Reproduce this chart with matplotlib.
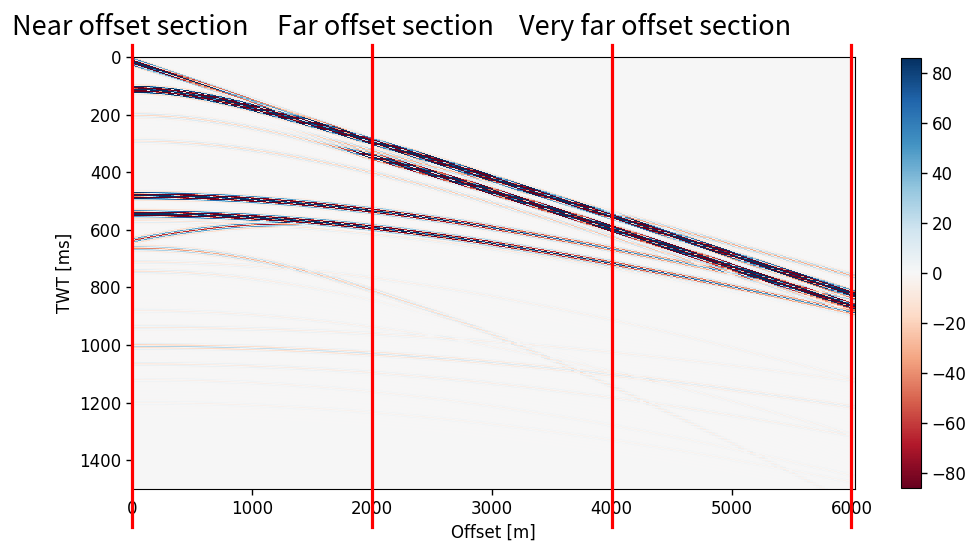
import numpy as np
import matplotlib
matplotlib.use("Agg")
import matplotlib.pyplot as plt

plt.rcParams["font.family"] = ["DejaVu Sans"]
plt.rcParams["font.size"] = 12

# ---- acquisition geometry -------------------------------------------------
offsets = np.arange(0.0, 6030.0, 25.0)      # receiver offsets [m]
twt = np.arange(0.0, 1500.0, 1.0)           # two-way time samples [ms]
wavelet_freq = 90.0                          # carrier frequency [Hz]
wavelet_width = 9.0                          # Gaussian envelope width [ms]

# ---- events in the shot gather ---------------------------------------------
# kind "lin": t = t0 + x / vel        kind "hyp": t = sqrt(t0^2 + ((x - apex)/vel)^2)
ev_kind     = ["lin", "lin", "hyp", "hyp", "hyp", "hyp", "hyp", "hyp", "hyp", "hyp",
               "hyp", "hyp", "hyp", "hyp", "hyp", "hyp", "hyp", "hyp", "hyp"]
ev_t0       = [17, 109, 112, 202, 202, 291, 481, 544, 568, 580,
               663, 711, 743, 880, 938, 1004, 1065, 1120, 1200]        # ms
ev_vel      = [7.4, 9.26, 7.4, 7.15, 7.15, 7.24, 8.7, 8.6, 8.7, 5.0,
               4.3, 7.0, 5.0, 6.2, 9.7, 8.8, 7.8, 6.5, 7.0]             # m/ms
ev_apex     = [0, 0, 0, 0, 0, 0, 0, 0, 0, 1300,
               0, 0, 0, 0, 0, 0, 0, 0, 0]                               # m
ev_amp_near = [420, -30, 420, -18, -360, -12, 380, 360, -14, -70,
               -45, -9, -14, -6, -10, 30, -9, -5, -4]
ev_amp_far  = [50, -34, 330, -18, -360, -30, 15, 35, -8, -70,
               0, -4, 0, -4, -4, 6, -5, -3, -3]
ev_decay    = [300, 1000, 3000, 1000, 1000, 3000, 2000, 2200, 1500, 1000,
               2500, 2000, 1500, 2000, 2000, 2500, 2000, 2000, 2000]    # m
ev_x_from   = [-1e6, 1500, -1e6, -1e6, 2000, -1e6, -1e6, -1e6, -1e6, -1e6,
               -1e6, -1e6, -1e6, -1e6, -1e6, -1e6, -1e6, -1e6, -1e6]    # m
ev_x_to     = [1e6, 1e6, 1e6, 1e6, 1e6, 1e6, 1e6, 1e6, 1e6, 1350,
               1e6, 1e6, 1e6, 1e6, 1e6, 1e6, 1e6, 1e6, 1e6]             # m

# colour scale and section boundaries
clip = 86
cbar_ticks = [-80, -60, -40, -20, 0, 20, 40, 60, 80]
section_edges = [0, 2000, 4000, 6000]
section_names = ["Near offset section", "Far offset section", "Very far offset section"]
section_label_x = [12, 277, 519]            # pixel positions of the headers


def wavelet(t_ms):
    return np.cos(2 * np.pi * wavelet_freq * t_ms / 1000.0) * np.exp(-(t_ms / wavelet_width) ** 2)


gather = np.zeros((twt.size, offsets.size))
for k in range(len(ev_t0)):
    x = offsets
    if ev_kind[k] == "lin":
        t_arr = ev_t0[k] + x / ev_vel[k]
    else:
        t_arr = np.sqrt(ev_t0[k] ** 2 + ((x - ev_apex[k]) / ev_vel[k]) ** 2)
    amp = ev_amp_far[k] + (ev_amp_near[k] - ev_amp_far[k]) * np.exp(-x / ev_decay[k])
    taper = (0.5 * (1 + np.tanh((x - ev_x_from[k]) / 250.0))
             * 0.5 * (1 + np.tanh((ev_x_to[k] - x) / 150.0)))
    gather += amp * taper * wavelet(twt[:, None] - t_arr[None, :])

# ---- figure -----------------------------------------------------------------
W, H = 974, 542
fig = plt.figure(figsize=(W / 100, H / 100), dpi=100)

ax = fig.add_axes([132 / W, 1 - 489 / H, (855 - 132) / W, (489 - 57) / H])
im = ax.imshow(gather, cmap="RdBu", vmin=-clip, vmax=clip, aspect="auto",
               extent=(0, 6030, 1500, 0), interpolation="nearest")
ax.set_xlim(0, 6030)
ax.set_ylim(1500, 0)
ax.set_xticks(np.arange(0, 6001, 1000))
ax.set_yticks(np.arange(0, 1401, 200))
ax.set_xlabel("Offset [m]", fontsize=12)
ax.set_ylabel("TWT [ms]", fontsize=12)
ax.tick_params(labelsize=12, length=4.2, width=1.0)

cax = fig.add_axes([901 / W, 1 - 488 / H, 20 / W, (488 - 58) / H])
cb = fig.colorbar(im, cax=cax, ticks=cbar_ticks)
cb.ax.tick_params(labelsize=12, length=4.2, width=1.0)

# section boundaries reaching beyond the frame
for xe in section_edges:
    ax.plot([xe, xe], [-0.088, 1.028], color="red", lw=2.3,
            transform=ax.get_xaxis_transform(), clip_on=False, zorder=5)

for name, px in zip(section_names, section_label_x):
    fig.text(px / W, 1 - 35 / H, name, ha="left", va="baseline", fontsize=19.5,
             family=["Noto Sans CJK KR", "DejaVu Sans"])

fig.savefig("out.png", dpi=100)
